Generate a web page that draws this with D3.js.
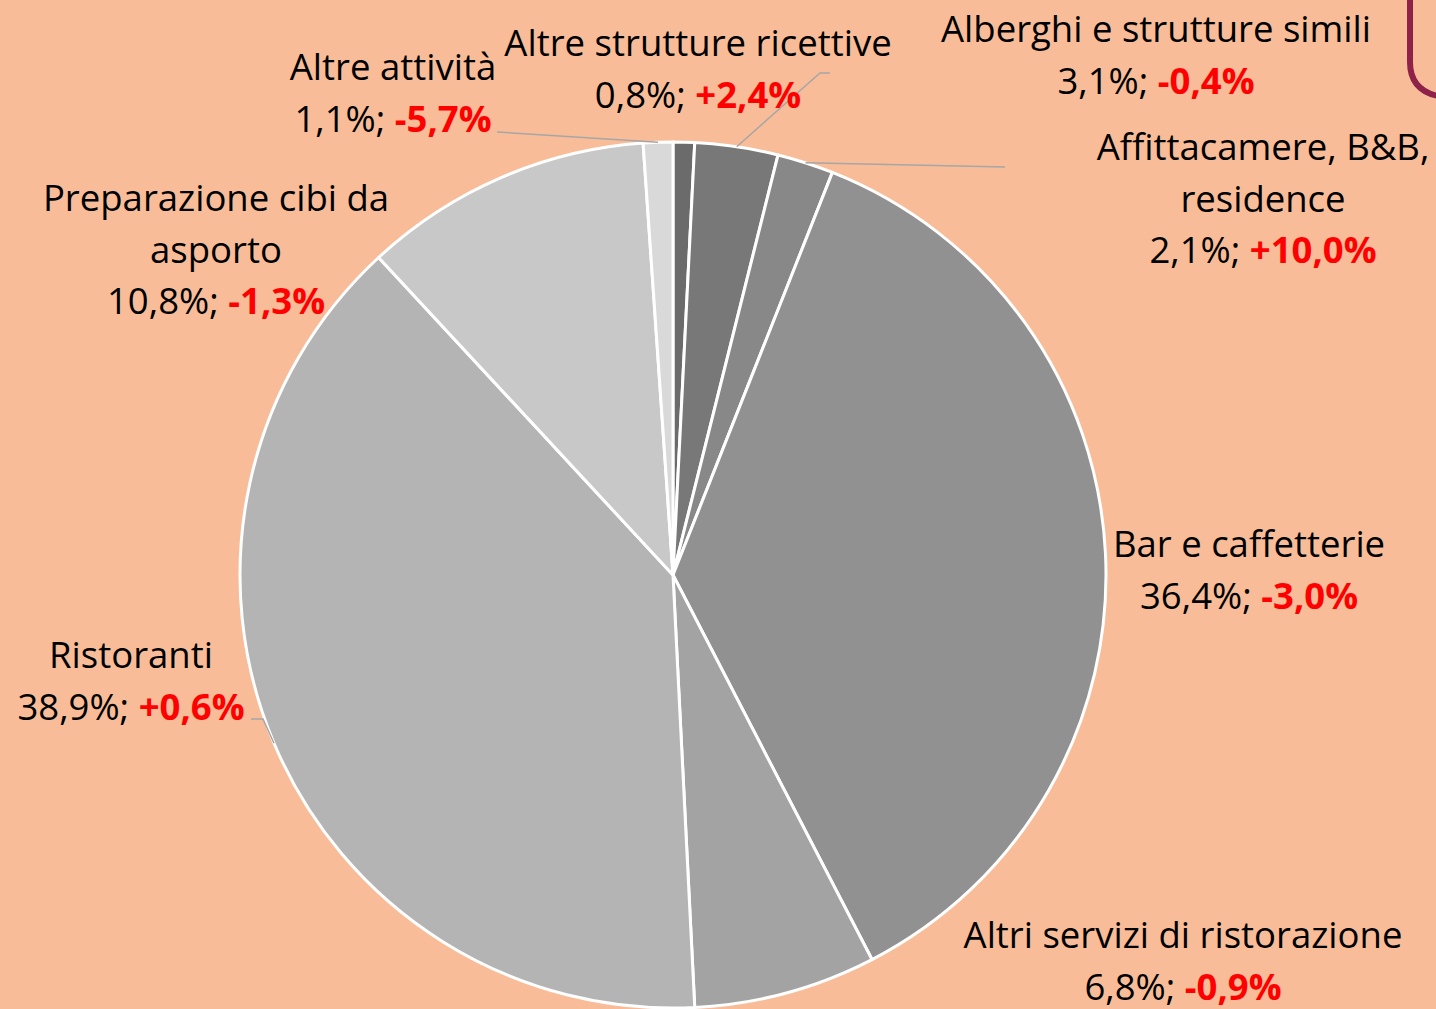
<!DOCTYPE html>
<html>
<head>
<meta charset="utf-8">
<script src="https://cdn.jsdelivr.net/npm/d3@7"></script>
<style>
  html, body { margin: 0; padding: 0; background: #f8bd98; }
  svg { display: block; }
</style>
</head>
<body>
<div id="chart"></div>
<script>
const categories = [
  "Altre strutture ricettive",
  "Alberghi e strutture simili",
  "Affittacamere, B&B, residence",
  "Bar e caffetterie",
  "Altri servizi di ristorazione",
  "Ristoranti",
  "Preparazione cibi da asporto",
  "Altre attività"
];
const shares  = [0.8, 3.1, 2.1, 36.4, 6.8, 38.9, 10.8, 1.1];
const changes = [2.4, -0.4, 10.0, -3.0, -0.9, 0.6, -1.3, -5.7];

// styling
const sliceColors = ["#6b6b6b", "#787878", "#888888", "#919191",
                     "#a3a3a3", "#b4b4b4", "#c8c8c8", "#d9d9d9"];

// label placement: centre x, first baseline, how the name wraps,
// and an optional leader line end (elbow) next to the label
const labelLayout = [
  {x: 698,  y: 56,  lines: ["Altre strutture ricettive"]},
  {x: 1156, y: 42,  lines: ["Alberghi e strutture simili"], leader: [[830, 73], [820, 73]]},
  {x: 1263, y: 160, lines: ["Affittacamere, B&B,", "residence"], leader: [[1005, 167]]},
  {x: 1249, y: 557, lines: ["Bar e caffetterie"]},
  {x: 1183, y: 948, lines: ["Altri servizi di ristorazione"]},
  {x: 131,  y: 668, lines: ["Ristoranti"], leader: [[251, 719], [263, 719]]},
  {x: 216,  y: 211, lines: ["Preparazione cibi da", "asporto"]},
  {x: 393,  y: 80,  lines: ["Altre attività"], leader: [[497, 132]]}
];

const W = 1436, H = 1009;
const cx = 673, cy = 575, R = 433;
const lineH = 51.5;

const it = d3.formatLocale({decimal: ",", thousands: ".", grouping: [3], currency: ["€", ""], minus: "-"});
const fmtShare = it.format(".1f");
const fmtChange = it.format("+.1f");

const data = categories.map((c, i) => ({name: c, share: shares[i], change: changes[i], i: i}));

const svg = d3.select("#chart").append("svg")
  .attr("width", W)
  .attr("height", H);

svg.append("rect").attr("width", W).attr("height", H).attr("fill", "#f8bd98");

// frame corner of the slide box, top right
svg.append("path")
  .attr("d", "M1410,-10 L1410,62 Q1410,90 1438,96")
  .attr("fill", "none")
  .attr("stroke", "#8e2248")
  .attr("stroke-width", 6);

const pie = d3.pie().sort(null).value(d => d.share);
const arc = d3.arc().innerRadius(0).outerRadius(R);
const arcs = pie(data);

const g = svg.append("g").attr("transform", `translate(${cx},${cy})`);

g.selectAll("path.slice")
  .data(arcs)
  .join("path")
  .attr("class", "slice")
  .attr("d", arc)
  .attr("fill", d => sliceColors[d.data.i])
  .attr("stroke", "#ffffff")
  .attr("stroke-width", 3)
  .attr("stroke-linejoin", "round");

// leader lines
const edgePoint = d => {
  const a = (d.startAngle + d.endAngle) / 2;
  return [cx + R * Math.sin(a), cy - R * Math.cos(a)];
};

arcs.forEach(d => {
  const lay = labelLayout[d.data.i];
  if (!lay.leader) return;
  const pts = [edgePoint(d)].concat(lay.leader.slice().reverse());
  svg.append("path")
    .attr("d", d3.line()(pts))
    .attr("fill", "none")
    .attr("stroke", "#a6a6a6")
    .attr("stroke-width", 1.5);
});

// labels
const font = "'Open Sans', sans-serif";
const fs = 36.5;

const labels = svg.append("g").attr("class", "labels");

data.forEach(d => {
  const lay = labelLayout[d.i];
  const t = labels.append("text")
    .attr("text-anchor", "middle")
    .attr("font-family", font)
    .attr("font-size", fs)
    .attr("fill", "#000");
  lay.lines.forEach((ln, k) => {
    t.append("tspan")
      .attr("x", lay.x)
      .attr("y", lay.y + k * lineH)
      .text(ln);
  });
  const last = t.append("tspan")
    .attr("x", lay.x)
    .attr("y", lay.y + lay.lines.length * lineH);
  last.append("tspan").text(fmtShare(d.share) + "%; ");
  last.append("tspan")
    .attr("fill", "#ff0000")
    .attr("font-weight", "bold")
    .text(fmtChange(d.change) + "%");
});
</script>
</body>
</html>
